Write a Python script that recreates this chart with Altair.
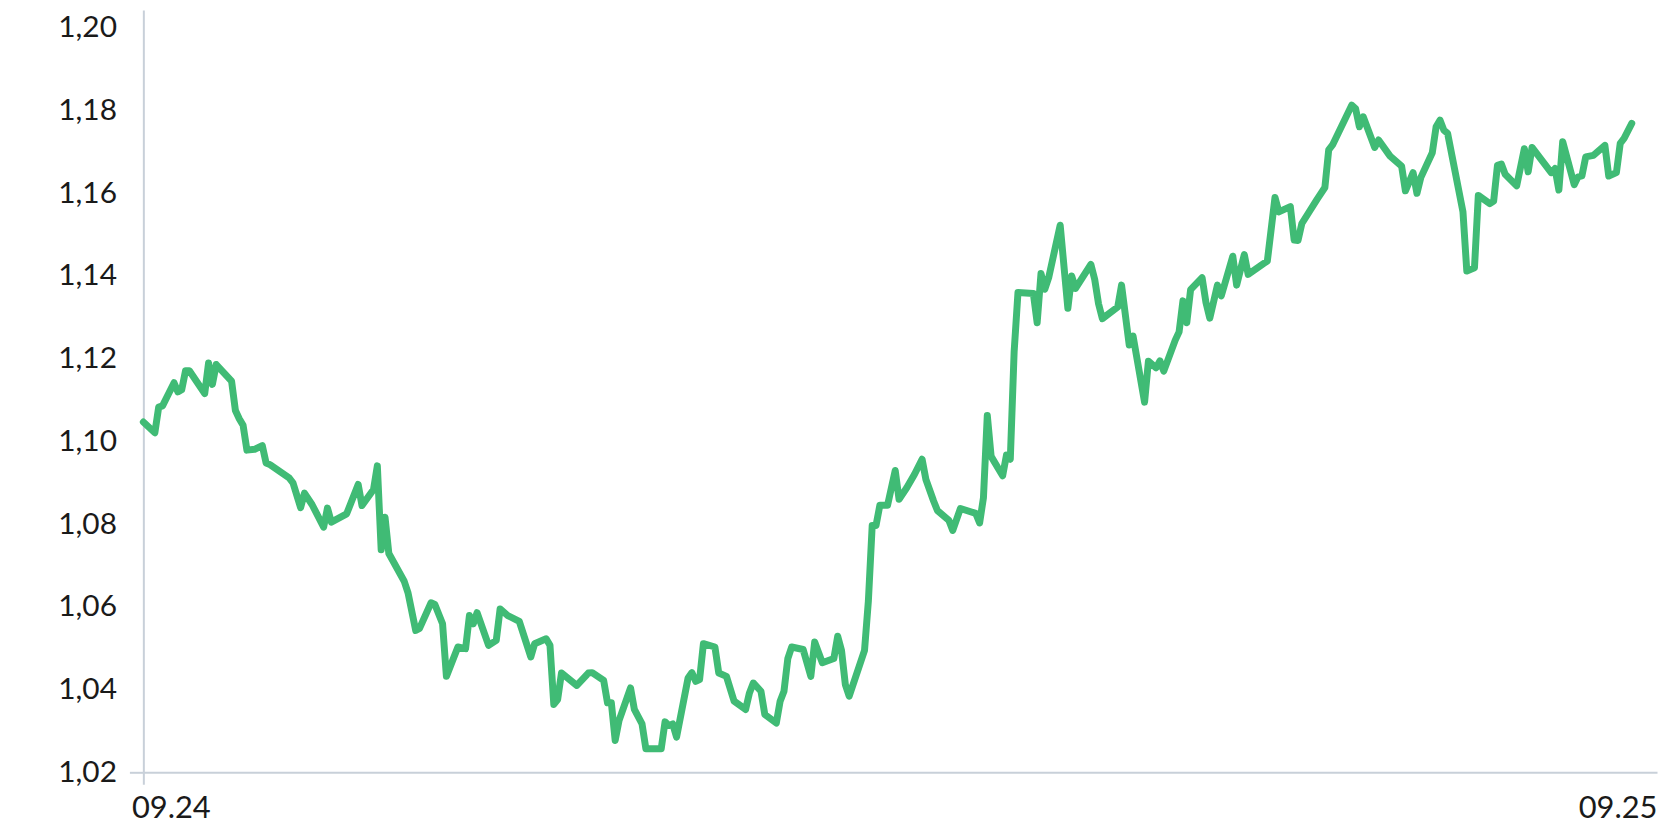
import altair as alt
import pandas as pd

start_date = "2024-09-01"

# days since start_date
day_offsets = [
    0, 3, 4, 5, 8, 9, 10, 11, 12, 16,
    17, 18, 19, 23, 24, 25, 26, 27, 29, 31,
    32, 33, 38, 39, 41, 42, 44, 47, 48, 49,
    53, 56, 57, 60, 61, 62, 63, 64, 68, 69,
    71, 72, 75, 76, 78, 79, 82, 84, 85, 86,
    87, 90, 91, 92, 93, 95, 98, 101, 102, 105,
    106, 107, 108, 109, 113, 116, 117, 120, 121, 122,
    123, 124, 127, 128, 130, 131, 135, 136, 137, 138,
    139, 142, 143, 144, 145, 146, 149, 150, 152, 154,
    157, 158, 159, 161, 162, 165, 166, 167, 168, 169,
    172, 174, 175, 177, 180, 181, 182, 183, 184, 188,
    189, 190, 191, 192, 194, 196, 197, 199, 201, 203,
    204, 206, 207, 209, 210, 211, 213, 217, 218, 219,
    220, 221, 224, 225, 226, 227, 228, 232, 233, 234,
    235, 236, 239, 241, 242, 243, 247, 248, 249, 250,
    254, 255, 257, 258, 261, 262, 264, 265, 266, 269,
    270, 271, 272, 273, 276, 277, 278, 280, 281, 284,
    285, 287, 288, 292, 293, 295, 296, 299, 300, 301,
    302, 306, 308, 309, 310, 315, 316, 317, 318, 321,
    322, 325, 328, 329, 331, 332, 333, 336, 337, 338,
    339, 340, 344, 345, 347, 348, 351, 352, 353, 354,
    355, 358, 360, 361, 362, 367, 368, 369, 370, 373,
    374, 375, 376, 378, 381, 382, 384, 385, 386, 388,
]

eurusd = [
    1.1047, 1.1021, 1.1083, 1.1086, 1.1142, 1.1120, 1.1125, 1.1171, 1.1171, 1.1116,
    1.1190, 1.1138, 1.1186, 1.1146, 1.1075, 1.1055, 1.1039, 1.0979, 1.0981, 1.0990,
    1.0948, 1.0944, 1.0912, 1.0900, 1.0840, 1.0875, 1.0847, 1.0793, 1.0839, 1.0805,
    1.0825, 1.0896, 1.0845, 1.0884, 1.0941, 1.0738, 1.0817, 1.0729, 1.0662, 1.0634,
    1.0543, 1.0548, 1.0610, 1.0606, 1.0559, 1.0432, 1.0503, 1.0499, 1.0579, 1.0559,
    1.0586, 1.0507, 1.0513, 1.0519, 1.0595, 1.0579, 1.0565, 1.0479, 1.0511, 1.0523,
    1.0507, 1.0364, 1.0376, 1.0440, 1.0410, 1.0440, 1.0441, 1.0422, 1.0368, 1.0368,
    1.0277, 1.0325, 1.0404, 1.0352, 1.0317, 1.0257, 1.0257, 1.0322, 1.0313, 1.0317,
    1.0285, 1.0428, 1.0441, 1.0420, 1.0424, 1.0511, 1.0503, 1.0440, 1.0432, 1.0372,
    1.0352, 1.0392, 1.0416, 1.0396, 1.0340, 1.0319, 1.0372, 1.0396, 1.0475, 1.0503,
    1.0497, 1.0432, 1.0515, 1.0465, 1.0475, 1.0529, 1.0495, 1.0412, 1.0384, 1.0495,
    1.0614, 1.0797, 1.0797, 1.0846, 1.0846, 1.0930, 1.0860, 1.0888, 1.0920, 1.0957,
    1.0908, 1.0856, 1.0833, 1.0817, 1.0809, 1.0785, 1.0838, 1.0826, 1.0803, 1.0864,
    1.1063, 1.0964, 1.0917, 1.0967, 1.0957, 1.1217, 1.1360, 1.1358, 1.1287, 1.1406,
    1.1368, 1.1396, 1.1523, 1.1322, 1.1400, 1.1370, 1.1428, 1.1392, 1.1333, 1.1297,
    1.1325, 1.1378, 1.1233, 1.1255, 1.1095, 1.1194, 1.1178, 1.1195, 1.1170, 1.1245,
    1.1265, 1.1340, 1.1287, 1.1367, 1.1396, 1.1336, 1.1298, 1.1378, 1.1352, 1.1448,
    1.1378, 1.1452, 1.1404, 1.1430, 1.1436, 1.1590, 1.1555, 1.1568, 1.1487, 1.1486,
    1.1527, 1.1586, 1.1614, 1.1705, 1.1717, 1.1813, 1.1805, 1.1761, 1.1785, 1.1711,
    1.1729, 1.1690, 1.1666, 1.1606, 1.1650, 1.1600, 1.1638, 1.1698, 1.1761, 1.1777,
    1.1753, 1.1745, 1.1555, 1.1412, 1.1420, 1.1595, 1.1575, 1.1581, 1.1668, 1.1671,
    1.1646, 1.1618, 1.1708, 1.1652, 1.1711, 1.1650, 1.1660, 1.1608, 1.1725, 1.1621,
    1.1640, 1.1642, 1.1688, 1.1692, 1.1716, 1.1642, 1.1650, 1.1721, 1.1733, 1.1769,
]

y_ticks = [1.02, 1.04, 1.06, 1.08, 1.10, 1.12, 1.14, 1.16, 1.18, 1.20]
y_domain = [1.02, 1.20433]

x_start = alt.DateTime(year=2024, month=9, date=1)
x_end = alt.DateTime(year=2025, month=9, date=30, hours=14)

dates = pd.Timestamp(start_date) + pd.to_timedelta(day_offsets, unit="D")
df = pd.DataFrame({"date": dates, "value": eurusd})

AXIS = "#c8d0d9"
GREEN = "#40bb75"
TEXT = "#1a1a1a"
FONT = "Lato"
FIRST = "datum.value < 1735689600000"

chart = (
    alt.Chart(df)
    .mark_line(color=GREEN, strokeWidth=7, strokeJoin="round", strokeCap="round")
    .encode(
        x=alt.X(
            "date:T",
            scale=alt.Scale(domain=[x_start, x_end]),
            axis=alt.Axis(
                values=[x_start, x_end],
                format="%m.%y",
                title=None,
                grid=False,
                domainColor=AXIS,
                domainWidth=2,
                tickColor=AXIS,
                tickWidth=2,
                tickSize=12,
                tickOpacity=alt.expr(f"{FIRST} ? 1 : 0"),
                labelFlush=False,
                labelAlign=alt.expr(f"{FIRST} ? 'left' : 'right'"),
                labelOffset=alt.expr(f"{FIRST} ? -12 : 0"),
                labelPadding=9,
                labelFont=FONT,
                labelFontSize=31,
                labelColor=TEXT,
            ),
        ),
        y=alt.Y(
            "value:Q",
            scale=alt.Scale(domain=y_domain, nice=False, zero=False),
            axis=alt.Axis(
                values=y_ticks,
                labelExpr="replace(format(datum.value, '.2f'), '.', ',')",
                title=None,
                grid=False,
                domainColor=AXIS,
                domainWidth=2,
                tickColor=AXIS,
                tickWidth=2,
                tickSize=14,
                tickOpacity=alt.expr("abs(datum.value - 1.02) < 0.001 ? 1 : 0"),
                labelPadding=13,
                labelFont=FONT,
                labelFontSize=30,
                labelColor=TEXT,
            ),
        ),
    )
    .properties(
        width=1521,
        height=766,
        autosize=alt.AutoSizeParams(type="none"),
        padding={"left": 136, "top": 0, "right": 2, "bottom": 64},
    )
    .configure_view(strokeWidth=0)
)

chart.save("out.html", embed_options={"renderer": "svg", "actions": False})
